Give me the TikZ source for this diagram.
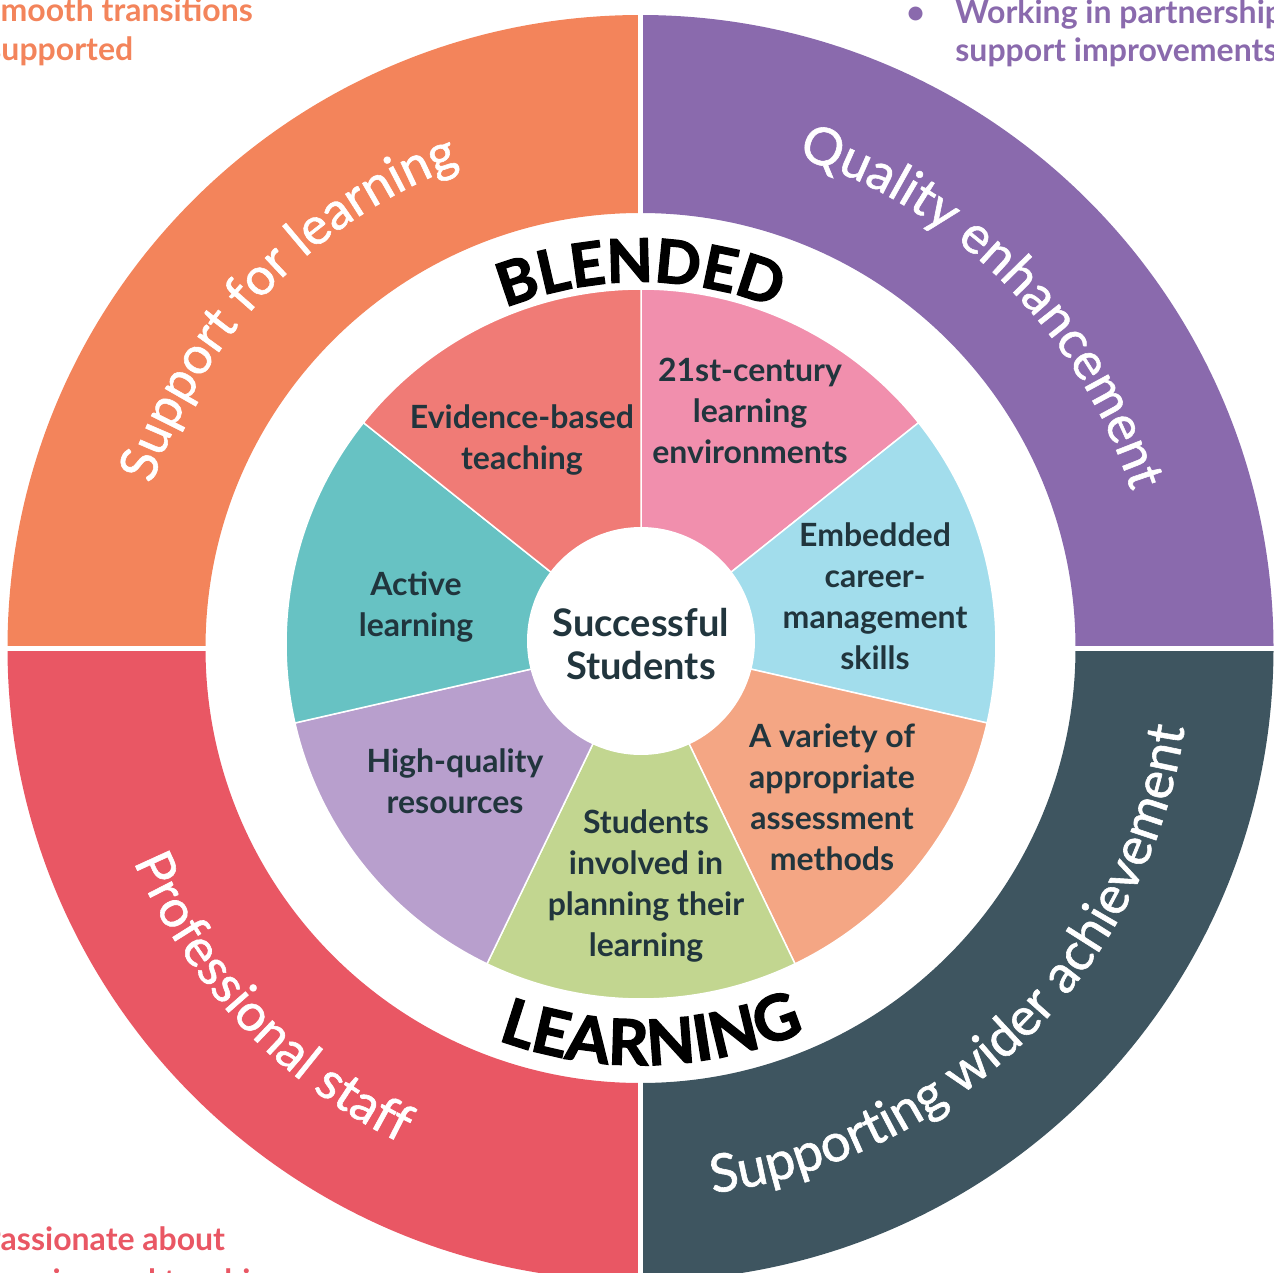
\documentclass[tikz,border=0pt]{standalone}
\usepackage{fontspec}
\setmainfont{Lato}
\newfontfamily\heavyfont{Lato}[FakeBold=2.2]
\newfontfamily\ringfont{Lato}[FakeBold=1.1]
\usetikzlibrary{decorations.text,calc}

\definecolor{cOrange}{HTML}{F3845B}
\definecolor{cPurple}{HTML}{8A6AAD}
\definecolor{cRed}{HTML}{E95764}
\definecolor{cSlate}{HTML}{3E5560}
\definecolor{cCoral}{HTML}{F07B76}
\definecolor{cPink}{HTML}{F18FAD}
\definecolor{cBlue}{HTML}{A2DDEC}
\definecolor{cSalmon}{HTML}{F4A684}
\definecolor{cGreen}{HTML}{C2D690}
\definecolor{cLilac}{HTML}{B89FCD}
\definecolor{cTeal}{HTML}{67C2C3}
\definecolor{cText}{HTML}{21353D}

\newcommand\ringquarter[3]{%
  \fill[#1] ($(C)+(#2:633)$) arc[start angle=#2,end angle=#3,radius=633]
    -- ($(C)+(#3:435)$) arc[start angle=#3,end angle=#2,radius=435] -- cycle;}

\tikzset{
  pielabel/.style={align=center, text=cText, inner sep=0pt,
    font=\bfseries\fontsize{16}{20.5}\selectfont},
  cornertext/.style={anchor=base west, inner sep=0pt,
    font=\bfseries\fontsize{16}{19.5}\selectfont},
}

\begin{document}
\begin{tikzpicture}[x=0.5pt,y=0.5pt]
\useasboundingbox (0,-1273) rectangle (1274,0);
\clip (0,-1273) rectangle (1274,0);
\coordinate (C) at (640.5,-648);
\coordinate (P) at (641,-644);

% outer ring
\ringquarter{cPurple}{0}{90}
\ringquarter{cOrange}{90}{180}
\ringquarter{cRed}{180}{270}
\ringquarter{cSlate}{270}{360}
\draw[white, line width=2.5pt] ($(C)+(-700,0)$) -- ($(C)+(700,0)$);
\draw[white, line width=2.5pt] ($(C)+(0,-700)$) -- ($(C)+(0,700)$);

% inner pie
\foreach \col [count=\k from 0] in {cPink,cBlue,cSalmon,cGreen,cLilac,cTeal,cCoral}{
  \pgfmathsetmacro\sa{90-\k*360/7}
  \pgfmathsetmacro\ea{\sa-360/7}
  \filldraw[fill=\col, draw=white, line width=0.75pt, line join=round]
    (P) -- ($(P)+(\sa:355)$) arc[start angle=\sa, end angle=\ea, radius=355] -- cycle;
}

% centre
\node[circle, fill=white, minimum size=114pt, inner sep=0pt] (hub) at (641,-641) {};
\node[align=center, text=cText, inner sep=0pt,
      font=\bfseries\fontsize{19}{21.5}\selectfont] (hubtext) at (641,-644.5) {Successful\\Students};

% pie labels
\node[pielabel] (evidence) at (522,-440) {Evidence-based\\teaching};
\node[pielabel] (century) at (750,-411) {21st-century\\learning\\environments};
\node[pielabel] (career) at (875,-596) {Embedded\\career-\\management\\skills};
\node[pielabel] (assess) at (832,-797) {A variety of\\appropriate\\assessment\\methods};
\node[pielabel] (involved) at (646,-886) {Students\\involved in\\planning their\\learning};
\node[pielabel] (resources) at (455,-781) {High-quality\\resources};
\node[pielabel] (active) at (416,-607) {Active\\learning};

% BLENDED / LEARNING
\path[decorate, decoration={text along path, text align=center,
  text={|\heavyfont\bfseries\fontsize{30}{30}\selectfont|BLENDED}}]
  ($(C)+(130:366)$) arc[start angle=130, end angle=50, radius=366];
\path[decorate, decoration={text along path, text align=center,
  text={|\heavyfont\bfseries\fontsize{31.5}{31.5}\selectfont|LEARNING}}]
  ($(C)+(226.6:417)$) arc[start angle=226.6, end angle=316.6, radius=417];

% ring labels
\path[decorate, decoration={text along path, text align=center, text color=white,
  text={|\ringfont\fontsize{26}{26}\selectfont|Support for learning}}]
  ($(C)+(181:515)$) arc[start angle=181, end angle=91, radius=515];
\path[decorate, decoration={text along path, text align=center, text color=white,
  text={|\ringfont\fontsize{26}{26}\selectfont|Quality enhancement}}]
  ($(C)+(90:515)$) arc[start angle=90, end angle=0, radius=515];
\path[decorate, decoration={text along path, text align=center, text color=white,
  text={|\ringfont\fontsize{26}{26}\selectfont|Professional staff}}]
  ($(C)+(178.5:550)$) arc[start angle=178.5, end angle=268.5, radius=550];
\path[decorate, decoration={text along path, text align=center, text color=white,
  text={|\ringfont\fontsize{26.5}{26.5}\selectfont|Supporting wider achievement}}]
  ($(C)+(259.6:550)$) arc[start angle=259.6, end angle=369.6, radius=550];

% corner texts
\node[cornertext, text=cOrange] (smoothA) at (-17,-22) {Smooth transitions};
\node[cornertext, text=cOrange] (smoothB) at (-13,-61) {supported};
\node[cornertext, text=cPurple] (bullet) at (906,-24) {•};
\node[cornertext, text=cPurple] (partnerA) at (955,-24) {Working in partnership};
\node[cornertext, text=cPurple] (partnerB) at (955,-62) {support improvements};
\node[cornertext, text=cRed] (passionA) at (-19,-1250) {Passionate about};
\node[cornertext, text=cRed] (passionB) at (-19,-1292) {learning and teaching};
\end{tikzpicture}
\end{document}
